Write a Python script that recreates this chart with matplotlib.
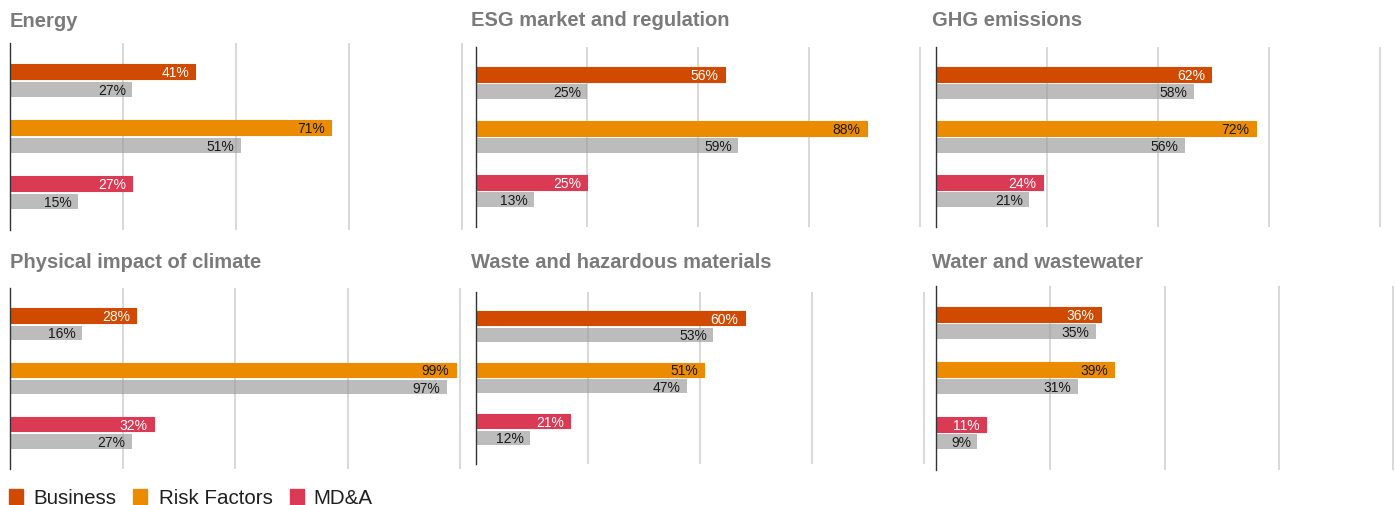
import matplotlib
matplotlib.use("Agg")
import matplotlib.pyplot as plt
from matplotlib.patches import Rectangle

plt.rcParams['font.family'] = ['Liberation Sans', 'DejaVu Sans']

# Share of filings mentioning each topic, by 10-K section (current vs. prior period)
topics = ["Energy", "ESG market and regulation", "GHG emissions",
          "Physical impact of climate", "Waste and hazardous materials",
          "Water and wastewater"]
sections = ["Business", "Risk Factors", "MD&A"]

business_cur = [41, 56, 62, 28, 60, 36]
business_prev = [27, 25, 58, 16, 53, 35]
risk_cur = [71, 88, 72, 99, 51, 39]
risk_prev = [51, 59, 56, 97, 47, 31]
mdna_cur = [27, 25, 24, 32, 21, 11]
mdna_prev = [15, 13, 21, 27, 12, 9]

section_colors = ["#D04A02", "#EB8C00", "#DB3A55"]
label_colors = ["white", "#1a1a1a", "white"]
prev_color = "#999999"
prev_alpha = 0.65

W, H = 1395, 505
fig = plt.figure(figsize=(W / 100, H / 100), dpi=100)

# panel frames in pixels: x at 0%, x at 100%, top, bottom
frames = [(10, 462, 43, 230), (476, 920, 47, 227), (936, 1380, 47, 227),
          (10, 460, 288, 469), (476, 924, 292, 464), (936, 1393, 286, 470)]
title_pos = [(10, 27), (471, 26), (932, 26), (10, 268), (471, 268), (932, 268)]

XMAX = 100.6
bar_h = 0.27
off = 0.16

for i, topic in enumerate(topics):
    x0, x1, top, bot = frames[i]
    wpx = (x1 - x0) * XMAX / 100
    ax = fig.add_axes([x0 / W, 1 - bot / H, wpx / W, (bot - top) / H])
    ax.set_xlim(0, XMAX)
    ax.set_ylim(2.67, -0.67)
    ax.set_axisbelow(True)
    ax.set_xticks([25, 50, 75, 100])
    ax.set_yticks([])
    ax.tick_params(length=0, labelbottom=False)
    ax.grid(axis='x', color="#d6d6d6", linewidth=1.3)
    for s in ("top", "right", "bottom"):
        ax.spines[s].set_visible(False)
    ax.spines["left"].set_color("#333333")
    ax.spines["left"].set_linewidth(1.0)
    ax.spines["left"].set_zorder(5)

    cur = [business_cur[i], risk_cur[i], mdna_cur[i]]
    prev = [business_prev[i], risk_prev[i], mdna_prev[i]]
    for k in range(3):
        ax.barh(k - off, cur[k], height=bar_h, color=section_colors[k],
                edgecolor=section_colors[k], linewidth=0.8, joinstyle='round', zorder=3)
        ax.barh(k + off, prev[k], height=bar_h, color=prev_color, alpha=prev_alpha,
                edgecolor='none', zorder=3)
        ax.annotate(f"{cur[k]}%", xy=(cur[k], k - off), xytext=(-4.5, 0),
                    textcoords='offset points', ha='right', va='center_baseline',
                    fontsize=10, color=label_colors[k], zorder=4)
        ax.annotate(f"{prev[k]}%", xy=(prev[k], k + off), xytext=(-4.5, 0),
                    textcoords='offset points', ha='right', va='center_baseline',
                    fontsize=10, color="#1a1a1a", zorder=4)

    tx, ty = title_pos[i]
    fig.text(tx / W, 1 - ty / H, topic, fontsize=14.5, fontweight='bold',
             color="#7a7a7a", ha='left', va='baseline')

# legend along the bottom edge
legend_items = [(9, 33), (133, 159), (290, 313)]
for k, name in enumerate(sections):
    sx, tx = legend_items[k]
    fig.patches.append(Rectangle((sx / W, 1 - 504 / H), 14 / W, 15 / H,
                                 transform=fig.transFigure, color=section_colors[k]))
    fig.text(tx / W, 1 - 503.5 / H, name, fontsize=14.8, color="#1f1f1f",
             ha='left', va='baseline')

fig.savefig("out.png", dpi=100)
